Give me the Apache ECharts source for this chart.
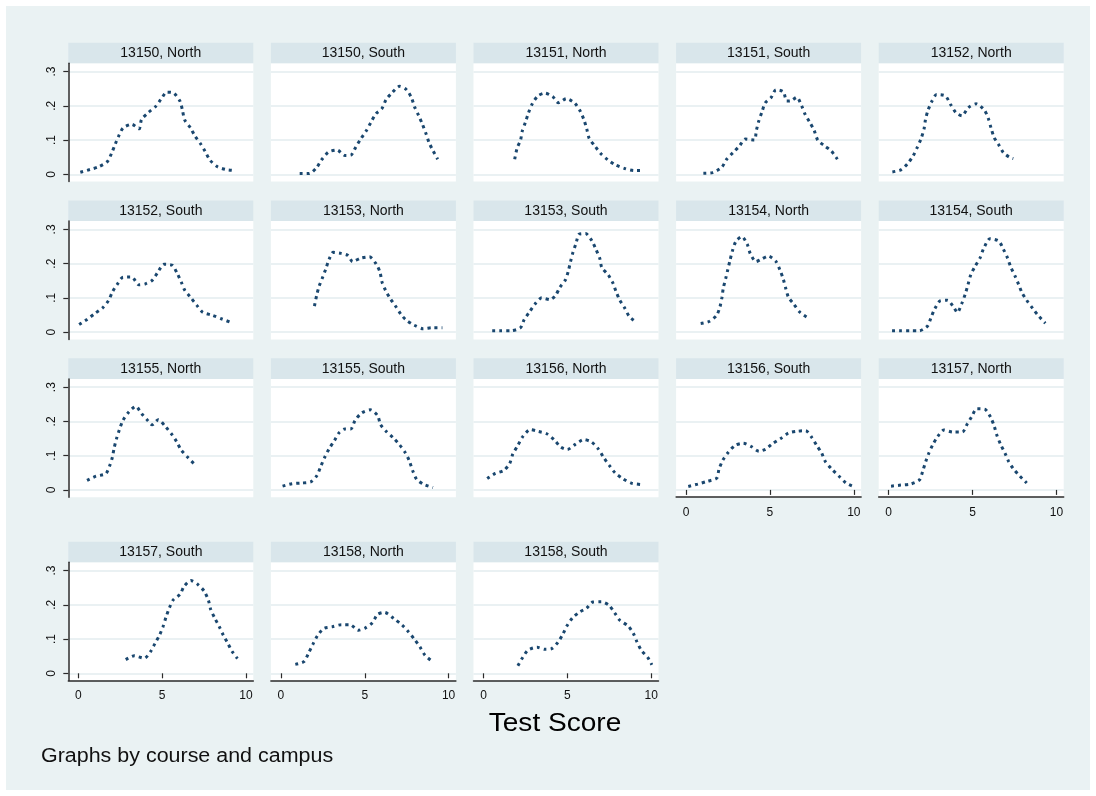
<!DOCTYPE html>
<html><head><meta charset="utf-8">
<script src="https://cdn.jsdelivr.net/npm/echarts@6/dist/echarts.min.js"></script>
<style>
html,body{margin:0;padding:0;background:#fff;}
#bg{position:absolute;left:6px;top:6px;width:1084px;height:784px;background:#eaf2f3;}
#main{position:absolute;left:0;top:0;width:1096px;height:796px;}
</style></head><body>
<div id="bg"></div><div id="main"></div>
<script>
// ---- data: [test score, density] per course/campus ----
const p13150North = [[0.12,.006],[0.70,.014],[1.21,.022],[1.73,.037],[1.98,.061],[2.21,.089],[2.42,.113],[2.68,.136],[3.19,.146],[3.63,.133],[3.77,.160],[4.19,.181],[4.61,.198],[4.93,.219],[5.28,.240],[5.70,.237],[6.07,.213],[6.21,.187],[6.35,.158],[6.70,.135],[6.95,.112],[7.28,.090],[7.55,.068],[7.86,.041],[8.30,.022],[8.79,.014],[9.34,.011]];
const p13150South = [[1.12,.002],[1.68,.002],[2.12,.019],[2.42,.042],[2.84,.065],[3.35,.071],[3.82,.055],[4.17,.056],[4.47,.080],[4.77,.104],[5.09,.127],[5.37,.152],[5.67,.177],[6.02,.192],[6.28,.219],[6.63,.238],[7.07,.257],[7.49,.247],[7.79,.223],[7.97,.197],[8.21,.172],[8.44,.146],[8.65,.119],[8.84,.092],[9.07,.069],[9.35,.044]];
const p13151North = [[1.86,.044],[2.00,.076],[2.21,.100],[2.31,.126],[2.50,.152],[2.68,.179],[2.91,.206],[3.24,.229],[3.66,.237],[4.12,.227],[4.47,.209],[4.93,.221],[5.44,.208],[5.77,.184],[6.00,.158],[6.16,.132],[6.30,.105],[6.65,.082],[7.00,.060],[7.40,.043],[7.84,.028],[8.42,.017],[8.98,.011],[9.58,.011]];
const p13151South = [[1.03,.003],[1.58,.005],[2.12,.020],[2.42,.044],[2.81,.064],[3.17,.082],[3.53,.103],[4.07,.100],[4.19,.128],[4.33,.155],[4.53,.183],[4.71,.208],[5.08,.225],[5.36,.247],[5.80,.241],[6.00,.214],[6.26,.215],[6.60,.225],[6.89,.200],[7.09,.176],[7.37,.152],[7.63,.129],[7.85,.100],[8.23,.084],[8.66,.068],[9.02,.044]];
const p13152North = [[0.22,.007],[0.73,.013],[1.13,.031],[1.45,.053],[1.69,.077],[1.93,.104],[2.11,.133],[2.19,.159],[2.33,.185],[2.56,.212],[2.86,.233],[3.38,.229],[3.70,.203],[4.01,.180],[4.37,.171],[4.75,.195],[5.21,.206],[5.70,.188],[5.94,.163],[6.10,.136],[6.28,.108],[6.54,.088],[6.84,.063],[7.23,.049],[7.43,.046]];
const p13152South = [[0.05,.022],[0.52,.037],[0.98,.054],[1.45,.071],[1.80,.092],[2.05,.119],[2.33,.140],[2.66,.160],[3.19,.161],[3.61,.138],[4.01,.141],[4.42,.152],[4.77,.177],[5.10,.198],[5.61,.195],[5.91,.170],[6.14,.146],[6.35,.122],[6.67,.103],[7.07,.078],[7.42,.058],[8.00,.049],[8.53,.039],[9.05,.029]];
const p13153North = [[2.00,.076],[2.14,.109],[2.28,.134],[2.49,.160],[2.68,.185],[2.87,.212],[3.12,.233],[3.59,.230],[4.00,.224],[4.28,.206],[4.75,.216],[5.28,.220],[5.68,.199],[5.91,.175],[6.03,.146],[6.24,.122],[6.52,.098],[6.82,.077],[7.17,.051],[7.45,.036],[7.96,.020],[8.47,.010],[9.05,.013],[9.63,.013]];
const p13153South = [[0.52,.004],[1.05,.004],[1.63,.004],[2.21,.013],[2.43,.037],[2.73,.058],[3.07,.082],[3.47,.100],[3.96,.095],[4.28,.106],[4.56,.131],[4.89,.153],[5.05,.177],[5.19,.206],[5.33,.232],[5.51,.258],[5.70,.286],[6.09,.288],[6.46,.267],[6.70,.242],[6.93,.216],[7.05,.189],[7.44,.167],[7.72,.143],[7.90,.119],[8.11,.095],[8.41,.071],[8.69,.046],[9.11,.029]];
const p13154North = [[0.87,.025],[1.37,.031],[1.82,.049],[2.02,.074],[2.14,.102],[2.22,.129],[2.36,.156],[2.48,.181],[2.62,.210],[2.76,.237],[2.98,.266],[3.33,.279],[3.65,.256],[3.83,.229],[4.17,.206],[4.45,.212],[4.90,.222],[5.36,.206],[5.60,.181],[5.80,.154],[5.94,.128],[6.10,.102],[6.40,.083],[6.79,.058],[7.25,.042]];
const p13154South = [[0.20,.004],[0.73,.004],[1.27,.004],[1.83,.004],[2.32,.018],[2.52,.042],[2.76,.069],[3.06,.091],[3.50,.093],[3.90,.071],[4.09,.057],[4.37,.085],[4.57,.112],[4.73,.139],[4.89,.167],[5.15,.192],[5.45,.217],[5.65,.243],[6.04,.273],[6.56,.266],[6.84,.242],[7.08,.217],[7.28,.190],[7.53,.164],[7.75,.139],[7.95,.115],[8.23,.093],[8.59,.069],[8.94,.047],[9.34,.026]];
const p13155North = [[0.52,.028],[1.05,.040],[1.63,.047],[1.86,.069],[2.03,.095],[2.14,.123],[2.28,.150],[2.45,.176],[2.66,.203],[3.00,.227],[3.42,.244],[3.79,.222],[4.14,.203],[4.40,.190],[4.77,.205],[5.21,.184],[5.58,.162],[5.86,.141],[6.14,.116],[6.51,.096],[6.91,.076]];
const p13155South = [[0.10,.011],[0.66,.018],[1.22,.020],[1.80,.024],[2.15,.042],[2.38,.069],[2.61,.095],[2.87,.120],[3.19,.144],[3.47,.167],[3.82,.178],[4.17,.178],[4.42,.203],[4.82,.225],[5.33,.234],[5.77,.217],[5.94,.191],[6.28,.171],[6.70,.152],[7.07,.132],[7.40,.110],[7.65,.086],[7.86,.056],[8.11,.030],[8.53,.016],[9.07,.007]];
const p13156North = [[0.22,.033],[0.70,.048],[1.21,.057],[1.56,.077],[1.75,.105],[2.05,.130],[2.33,.155],[2.79,.176],[3.26,.171],[3.77,.164],[4.24,.145],[4.61,.125],[5.00,.118],[5.47,.133],[5.98,.147],[6.44,.140],[6.84,.120],[7.16,.095],[7.51,.071],[7.84,.050],[8.30,.033],[8.81,.020],[9.35,.016]];
const p13156South = [[0.13,.010],[0.69,.017],[1.26,.025],[1.82,.034],[1.96,.060],[2.18,.086],[2.52,.110],[2.92,.130],[3.41,.136],[3.87,.127],[4.35,.113],[4.75,.119],[5.12,.134],[5.64,.150],[6.10,.166],[6.59,.171],[7.13,.173],[7.51,.152],[7.79,.130],[8.08,.108],[8.30,.083],[8.68,.061],[9.12,.040],[9.54,.020],[9.97,.010]];
const p13157North = [[0.14,.011],[0.72,.014],[1.31,.017],[1.83,.029],[2.03,.055],[2.21,.083],[2.39,.107],[2.62,.131],[2.92,.156],[3.30,.175],[3.82,.169],[4.39,.169],[4.69,.193],[4.95,.214],[5.25,.237],[5.75,.235],[6.08,.212],[6.30,.185],[6.44,.161],[6.68,.132],[6.94,.107],[7.14,.084],[7.44,.061],[7.79,.042],[8.23,.020]];
const p13157South = [[2.83,.040],[3.34,.051],[3.94,.044],[4.32,.064],[4.57,.087],[4.85,.112],[5.05,.136],[5.23,.164],[5.43,.191],[5.67,.215],[6.07,.231],[6.31,.254],[6.71,.271],[7.12,.260],[7.52,.239],[7.76,.213],[7.90,.186],[8.15,.160],[8.41,.136],[8.65,.111],[8.91,.088],[9.17,.064],[9.49,.043]];
const p13158North = [[0.86,.026],[1.37,.034],[1.65,.059],[1.91,.085],[2.17,.109],[2.55,.131],[3.07,.136],[3.61,.142],[4.12,.142],[4.62,.126],[5.02,.132],[5.46,.148],[5.76,.172],[6.18,.178],[6.73,.160],[7.23,.141],[7.59,.122],[7.97,.099],[8.29,.077],[8.59,.053],[9.04,.034]];
const p13158South = [[2.05,.022],[2.31,.044],[2.66,.068],[3.20,.076],[3.66,.070],[4.06,.072],[4.43,.090],[4.73,.114],[4.97,.138],[5.31,.162],[5.73,.179],[6.14,.190],[6.52,.208],[7.02,.209],[7.48,.199],[7.83,.176],[8.13,.155],[8.63,.138],[8.93,.117],[9.15,.092],[9.40,.068],[9.80,.046],[10.04,.025]];

const panelLabels = ['13150, North','13150, South','13151, North','13151, South','13152, North',
  '13152, South','13153, North','13153, South','13154, North','13154, South',
  '13155, North','13155, South','13156, North','13156, South','13157, North',
  '13157, South','13158, North','13158, South'];
const panelData = [p13150North,p13150South,p13151North,p13151South,p13152North,
  p13152South,p13153North,p13153South,p13154North,p13154South,
  p13155North,p13155South,p13156North,p13156South,p13157North,
  p13157South,p13158North,p13158South];
const xTickLabels = {0:'0',5:'5',10:'10'};
const yTickLabels = ['0','.1','.2','.3'];
const xTitle = 'Test Score';
const note = 'Graphs by course and campus';

// ---- layout ----
const FONT = "'Liberation Sans', Arial, sans-serif";
const NCOL = 5;
const colLeft = c => 68.3 + 202.6 * c;
const rowTop = [42.7, 200.5, 358.3, 541.7];
const PW = 185, STRIP_H = 20.6, TICK_OFF = 28.9, TICK_H = 102.7, XOFF = 7.3;
const PLOT_H = TICK_OFF + TICK_H + XOFF - STRIP_H;
const navy = '#1a476f', axisCol = '#2b2b2b', gridCol = '#e3ecef';

const grids = [], xAxes = [], yAxes = [], series = [], graphics = [];
const n = panelData.length;
panelData.forEach((d, i) => {
  const c = i % NCOL, r = Math.floor(i / NCOL);
  const L = colLeft(c), T = rowTop[r];
  const hasX = i + NCOL >= n;
  const hasY = c === 0;
  const gB = grids.length;
  // background grid (white plot region + axis lines)
  grids.push({left: L, top: T + STRIP_H, width: PW, height: PLOT_H, show: true, backgroundColor: '#fff', borderWidth: 0});
  xAxes.push({gridIndex: gB, type: 'value', min: 0, max: 1, position: 'bottom',
    axisLine: {show: hasX, onZero: false, lineStyle: {color: axisCol, width: 1.5}},
    axisTick: {show: false}, axisLabel: {show: false}, splitLine: {show: false}, z: 4});
  yAxes.push({gridIndex: gB, type: 'value', min: 0, max: 1, position: 'left',
    axisLine: {show: hasY, onZero: false, lineStyle: {color: axisCol, width: 1.5}},
    axisTick: {show: false}, axisLabel: {show: false}, splitLine: {show: false}, z: 4});
  // gridline grid (full width, tick range height)
  const gS = grids.length;
  grids.push({left: L, top: T + TICK_OFF, width: PW, height: TICK_H, show: false});
  xAxes.push({gridIndex: gS, type: 'value', min: 0, max: 1, show: false});
  yAxes.push({gridIndex: gS, type: 'value', min: 0, max: 0.3, interval: 0.1, position: 'left',
    axisLine: {show: false},
    axisTick: {show: hasY, length: 5, lineStyle: {color: axisCol, width: 1.2}},
    axisLabel: {show: hasY, rotate: 90, margin: 11, fontSize: 12, color: '#111', fontFamily: FONT,
      formatter: v => yTickLabels[Math.round(v * 10)]},
    splitLine: {show: true, lineStyle: {color: gridCol, width: 1.5}}, z: 2});
  // data grid
  const gD = grids.length;
  grids.push({left: L + 10, top: T + TICK_OFF, width: 167.7, height: TICK_H, show: false});
  xAxes.push({gridIndex: gD, type: 'value', min: 0, max: 10, interval: 5, position: 'bottom', offset: XOFF,
    axisLine: {show: false},
    axisTick: {show: hasX, length: 5, lineStyle: {color: axisCol, width: 1.2}},
    axisLabel: {show: hasX, margin: 9, fontSize: 12, color: '#111', fontFamily: FONT,
      formatter: v => xTickLabels[v]},
    splitLine: {show: false}, z: 4});
  yAxes.push({gridIndex: gD, type: 'value', min: 0, max: 0.3, show: false});
  series.push({type: 'line', xAxisIndex: gD, yAxisIndex: gD, data: d, showSymbol: false, smooth: 0.25,
    clip: false, z: 5,
    lineStyle: {color: navy, width: 3, type: [3, 4], cap: 'butt'}});
  // strip
  graphics.push({type: 'rect', shape: {x: L, y: T, width: PW, height: STRIP_H}, style: {fill: '#d9e6eb'}, z: 1});
  graphics.push({type: 'text', x: L + PW / 2, y: T + STRIP_H / 2 + 0.5, z: 2,
    style: {text: panelLabels[i], fill: '#111', font: '14px ' + FONT, textAlign: 'center', textVerticalAlign: 'middle'}});
});
graphics.push({type: 'text', x: 555, y: 724, scaleX: 1.1, z: 2,
  style: {text: xTitle, fill: '#000', font: '25.5px ' + FONT, textAlign: 'center', textVerticalAlign: 'middle'}});
graphics.push({type: 'text', x: 41, y: 757, scaleX: 1.1, z: 2,
  style: {text: note, fill: '#111', font: '19.5px ' + FONT, textAlign: 'left', textVerticalAlign: 'middle'}});

const chart = echarts.init(document.getElementById('main'), null, {renderer: 'canvas'});
chart.setOption({
  animation: false,
  backgroundColor: 'transparent',
  grid: grids, xAxis: xAxes, yAxis: yAxes, series: series,
  graphic: {elements: graphics}
});
</script>
</body></html>
